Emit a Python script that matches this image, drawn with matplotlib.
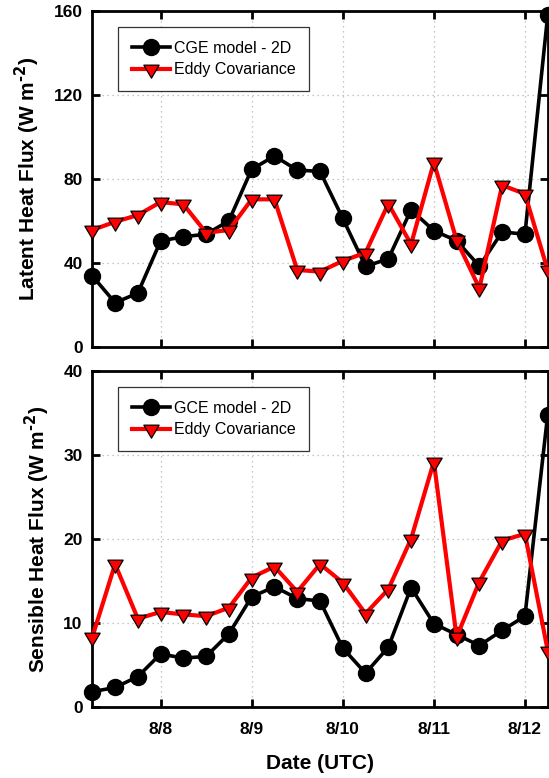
import numpy as np
import matplotlib
matplotlib.use("Agg")
import matplotlib.pyplot as plt
from matplotlib.path import Path

plt.rcParams['font.family'] = ['Liberation Sans', 'DejaVu Sans']

# Time axis: days of August, every 6 hours
days = np.arange(21) * 0.25 + 7.25
tick_days = [8, 9, 10, 11, 12]
tick_labels = ['8/8', '8/9', '8/10', '8/11', '8/12']

# Latent heat flux (W m-2)
latent_model = [34.0, 21.2, 25.8, 50.6, 52.6, 53.8, 60.2, 84.7, 91.0, 84.3, 83.7,
                61.3, 38.5, 42.1, 65.4, 55.5, 50.7, 38.6, 54.9, 53.8, 158.0]
latent_ec = [55.8, 59.7, 62.9, 69.1, 68.0, 54.5, 55.8, 70.4, 70.4, 36.8, 36.0,
             41.1, 45.0, 68.3, 49.0, 88.0, 50.9, 28.1, 77.1, 73.0, 36.7]

# Sensible heat flux (W m-2)
sensible_model = [1.8, 2.3, 3.6, 6.3, 5.8, 6.0, 8.7, 13.1, 14.3, 12.9, 12.6,
                  7.0, 4.0, 7.1, 14.2, 9.9, 8.6, 7.3, 9.1, 10.8, 34.8]
sensible_ec = [8.3, 17.0, 10.5, 11.3, 11.0, 10.8, 11.8, 15.4, 16.7, 13.7, 17.0,
               14.8, 11.1, 14.0, 20.0, 29.2, 8.3, 14.9, 19.8, 20.6, 6.7]

# Downward triangle centred on its centroid
H = 1.7
tri_down = Path([(-1, H / 3), (1, H / 3), (0, -2 * H / 3), (-1, H / 3)],
                [Path.MOVETO, Path.LINETO, Path.LINETO, Path.CLOSEPOLY])

fig = plt.figure(figsize=(5.49, 7.78), dpi=100)
W, Hpx = 549.0, 778.0
left = 92.3 / W
width = (547.7 - 92.3) / W
ax_top = fig.add_axes([left, 1 - 347.3 / Hpx, width, (347.3 - 11.0) / Hpx])
ax_bot = fig.add_axes([left, 1 - 706.8 / Hpx, width, (706.8 - 371.0) / Hpx])

panels = [
    (ax_top, latent_model, latent_ec, 'CGE model - 2D',
     'Latent Heat Flux (W m', (0, 160), [0, 40, 80, 120, 160]),
    (ax_bot, sensible_model, sensible_ec, 'GCE model - 2D',
     'Sensible Heat Flux (W m', (0, 40), [0, 10, 20, 30, 40]),
]

for ax, model, ec, model_name, ylabel, ylim, yticks in panels:
    ax.plot(days, model, color='black', lw=2.6, marker='o', ms=11.5,
            mfc='black', mec='black', label=model_name, clip_on=False, zorder=3)
    ax.plot(days, ec, color='#ff0000', lw=3.0, marker=tri_down, ms=12.5,
            mfc='#ff0000', mec='black', mew=0.9, label='Eddy Covariance',
            clip_on=False, zorder=4)
    ax.set_xlim(7.25, 12.25)
    ax.set_ylim(*ylim)
    ax.set_yticks(yticks)
    ax.set_xticks(tick_days)
    ax.grid(True, color='#b4b4b4', linestyle=(0, (1, 3)), linewidth=0.9)
    ax.set_axisbelow(True)
    for sp in ax.spines.values():
        sp.set_linewidth(2.0)
    ax.tick_params(direction='in', length=6, width=2.0, top=True, right=True,
                   labelsize=12.5)
    ax.tick_params(axis='y', pad=7)
    ax.tick_params(axis='x', pad=11)
    for lab in ax.get_yticklabels() + ax.get_xticklabels():
        lab.set_fontweight('bold')
    # axis title with a raised "-2" exponent
    ax.set_ylabel(ylabel + '$^{\\mathbf{\u2010}\\mathbf{2}}$)', fontsize=15,
                  fontweight='bold', labelpad=8)
    leg = ax.legend(loc='upper left', bbox_to_anchor=(0.057, 0.9515),
                    borderaxespad=0, fontsize=11.5, handlelength=2.4,
                    handletextpad=0.25, borderpad=0.85, labelspacing=0.4,
                    fancybox=False, framealpha=1, edgecolor='#333333')
    leg.get_frame().set_linewidth(0.9)

ax_top.set_xticklabels([])
ax_bot.set_xticklabels(tick_labels)
ax_bot.set_xlabel('Date (UTC)', fontsize=15, fontweight='bold', labelpad=12)

fig.savefig('out.png', dpi=100)
